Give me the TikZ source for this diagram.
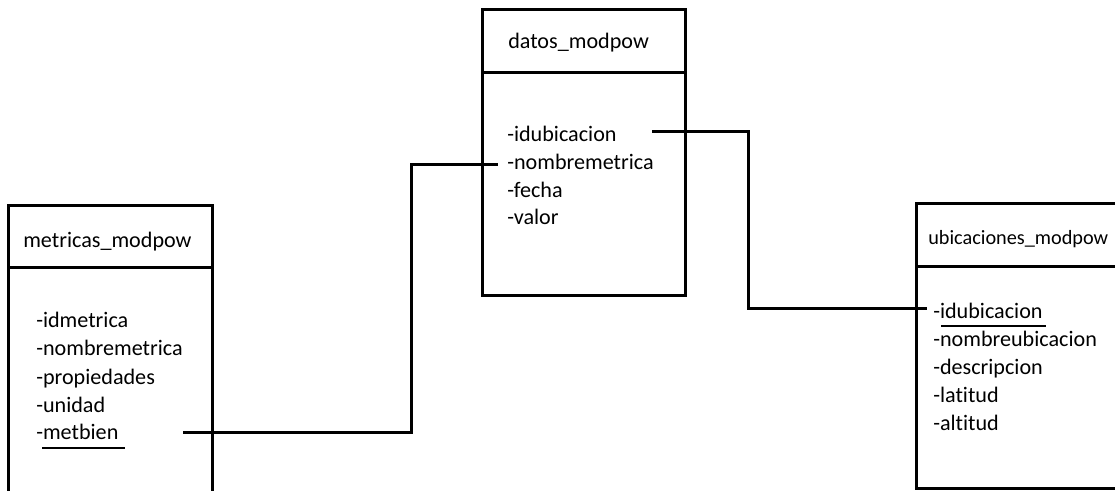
\documentclass[tikz,border=0pt]{standalone}
\usepackage{fontspec}
\setmainfont{Carlito}[Ligatures=NoCommon]
\usepackage{tikz}

\tikzset{
    tabla/.style={line width=2.25pt},
    enlace/.style={line width=2.25pt},
    campo/.style={anchor=base west, inner sep=0pt, font=\fontsize{16.6pt}{20pt}\selectfont},
    titulo/.style={campo},
    clave/.style={line width=0.8pt}
}

\begin{document}
\begin{tikzpicture}[x=0.75pt, y=-0.75pt]
        \useasboundingbox (0,0) rectangle (1115,490);
        \clip (0,0) rectangle (1115,490);

        % metricas_modpow
        \draw[tabla] (8,205) rectangle (212,530);
        \draw[tabla] (8,267) -- (212,267);
        \node[titulo] (mtit) at (23,247) {metricas\_modpow};
        \node[campo] (m1) at (36,327) {-idmetrica};
        \node[campo] (m2) at (36,355) {-nombremetrica};
        \node[campo] (m3) at (36,384) {-propiedades};
        \node[campo] (m4) at (36,412) {-unidad};
        \node[campo] (m5) at (36,439) {-metbien};
        \draw[clave] ([shift={(6,9)}]m5.base west) -- ([shift={(89,9)}]m5.base west);

        % datos_modpow
        \draw[tabla] (482,9) rectangle (685,295);
        \draw[tabla] (482,72) -- (685,72);
        \node[titulo] (dtit) at (508,48) {datos\_modpow};
        \node[campo] (d1) at (507,141) {-idubicacion};
        \node[campo] (d2) at (507,169) {-nombremetrica};
        \node[campo] (d3) at (507,197) {-fecha};
        \node[campo] (d4) at (507,224) {-valor};

        % ubicaciones_modpow
        \draw[tabla] (916,203) rectangle (1140,488);
        \draw[tabla] (916,266) -- (1140,266);
        \node[titulo, font=\fontsize{15.2pt}{18pt}\selectfont] (utit) at (928,244) {ubicaciones\_modpow};
        \node[campo] (u1) at (933,318) {-idubicacion};
        \node[campo] (u2) at (933,346) {-nombreubicacion};
        \node[campo] (u3) at (933,374) {-descripcion};
        \node[campo] (u4) at (933,402) {-latitud};
        \node[campo] (u5) at (933,430) {-altitud};
        \draw[clave] ([shift={(8,8)}]u1.base west) -- ([shift={(113,8)}]u1.base west);

        % relaciones
        \draw[enlace] ([shift={(147,-7)}]m5.base west) -- ++(228,0) |- ([shift={(-9,-5)}]d2.base west);
        \draw[enlace] ([shift={(145,-10)}]d1.base west) -- ++(96,0) |- ([shift={(-6,-10)}]u1.base west);
\end{tikzpicture}
\end{document}
